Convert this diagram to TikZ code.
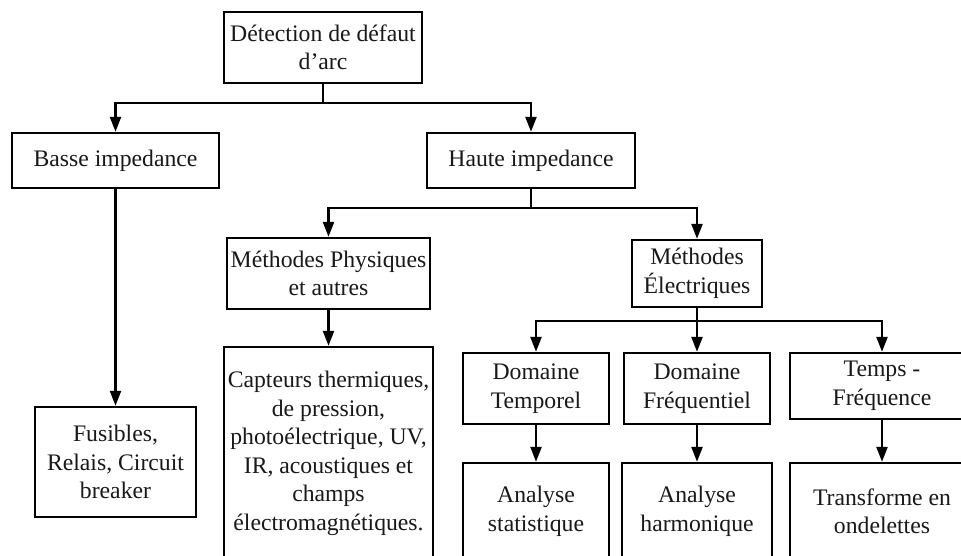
\documentclass[tikz,border=0pt]{standalone}
\usepackage{fontspec}
\setmainfont{Liberation Serif}
\usetikzlibrary{arrows.meta}

\begin{document}
\begin{tikzpicture}[
    x=1pt, y=-1pt,
    box/.style={draw, line width=2.4pt, align=center, inner sep=0pt, text=black!90,
        font=\fontsize{23.7}{28.5}\selectfont},
    arr/.style={-{Triangle[length=15pt, width=11pt]}, line width=2.4pt},
    link/.style={line width=2.4pt},
]
\clip (0,0) rectangle (961,555);
\fill[white] (0,0) rectangle (961,555);

% ── Nodes ──
\node[box, minimum width=198, minimum height=71] (root) at (323, 47.5) {Détection de défaut\\d’arc};

\node[box, minimum width=207, minimum height=55] (basse) at (115.5, 160.5) {Basse impedance};
\node[box, minimum width=208, minimum height=55] (haute) at (531, 160.5) {Haute impedance};

\node[box, minimum width=203, minimum height=71] (phys) at (328.5, 273.5) {Méthodes Physiques\\et autres};
\node[box, minimum width=130, minimum height=67] (elec) at (697, 273.5) {Méthodes\\Électriques};

\node[box, minimum width=161, minimum height=110] (fusibles) at (115.5, 462) {Fusibles,\\Relais, Circuit\\breaker};
\node[box, minimum width=209, minimum height=213] (capteurs) at (328.5, 453.5) {Capteurs thermiques,\\de pression,\\photoélectrique, UV,\\IR, acoustiques et\\champs\\électromagnétiques.};

\node[box, minimum width=146, minimum height=71] (temporel) at (536, 388.5) {Domaine\\Temporel};
\node[box, minimum width=146, minimum height=71] (frequentiel) at (697, 388.5) {Domaine\\Fréquentiel};
\node[box, minimum width=184, minimum height=66] (tempsfreq) at (882, 386) {Temps -\\Fréquence};

\node[box, minimum width=146, minimum height=97] (statistique) at (536, 511.5) {Analyse\\statistique};
\node[box, minimum width=150, minimum height=97] (harmonique) at (697, 511.5) {Analyse\\harmonique};
\node[box, minimum width=184, minimum height=97] (ondelettes) at (882, 511.5) {Transforme en\\ondelettes};

% ── Junctions ──
\coordinate (j1) at (323, 103);
\coordinate (j2) at (531, 208);
\coordinate (j3) at (697, 321);

% ── Arrows ──
\draw[link] (root.south) -- (j1);
\draw[arr] (j1) -| (basse.north);
\draw[arr] (j1) -| (haute.north);

\draw[link] (haute.south) -- (j2);
\draw[arr] (j2) -| (phys.north);
\draw[arr] (j2) -| (elec.north);

\draw[arr] (basse) -- (fusibles);
\draw[arr] (phys) -- (capteurs);

\draw[link] (elec.south) -- (j3);
\draw[arr] (j3) -| (temporel.north);
\draw[arr] (j3) -- (frequentiel.north);
\draw[arr] (j3) -| (tempsfreq.north);

\draw[arr] (temporel) -- (statistique);
\draw[arr] (frequentiel) -- (harmonique);
\draw[arr] (tempsfreq) -- (ondelettes);

\end{tikzpicture}
\end{document}
